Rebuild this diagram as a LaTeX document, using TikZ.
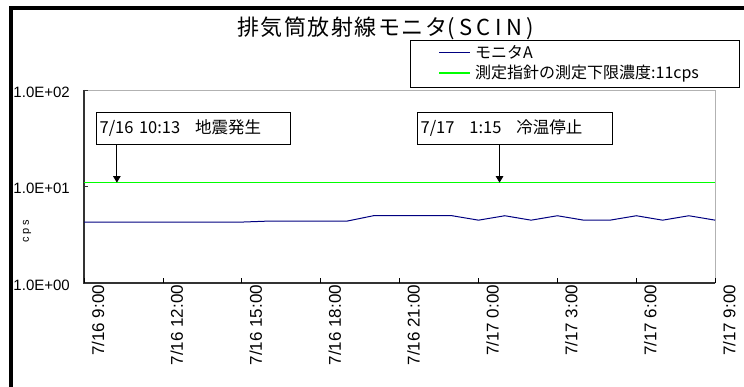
\documentclass[tikz,border=0pt]{standalone}
\usepackage{fontspec}
\setmainfont{Liberation Sans}
\newfontfamily\cjk{Noto Sans CJK JP}
\usetikzlibrary{arrows.meta}
\definecolor{monblue}{RGB}{0,0,128}
\definecolor{limgreen}{RGB}{0,255,0}
\begin{document}
\begin{tikzpicture}[x=1pt,y=-1pt,
    note/.style={draw,line width=0.8pt,fill=white,anchor=north west,minimum height=32.3pt,
      inner xsep=3.5pt,align=left,font=\cjk\fontsize{16.5}{18}\selectfont},
    legtext/.style={anchor=west,inner sep=0pt,font=\cjk\fontsize{16}{18}\selectfont},
    ylab/.style={anchor=east,inner sep=0pt,font=\fontsize{15}{17}\selectfont},
    xlab/.style={rotate=90,anchor=east,inner sep=0pt,font=\fontsize{17}{19}\selectfont},
    monA/.style={draw=monblue,line width=1pt},
    limit/.style={draw=limgreen,line width=1.6pt},
    pointer/.style={-{Triangle[width=7.5pt,length=6.5pt]},line width=0.9pt}]
    \useasboundingbox (0,0) rectangle (744,387);

    % chart frame
    \draw[line width=4pt] (10.5,387) -- (10.5,8) -- (744,8);

    \node at (237,28) [anchor=west,inner sep=0pt,font=\cjk\fontsize{22}{26}\selectfont] (title)
        {\addfontfeature{LetterSpace=7}排気筒放射線モニタ\addfontfeature{LetterSpace=20}(SCIN)};

    % legend
    \node at (410,40) [draw,line width=0.8pt,fill=white,anchor=north west,minimum width=329pt,minimum height=47pt] (legend) {};
    \node at (475,52.3) [legtext] (legA) {モニタA};
    \node at (475,73.3) [legtext] (legB) {測定指針の測定下限濃度:11cps};
    \draw[monA] ([xshift=-36pt]legA.west) -- ([xshift=-5pt]legA.west);
    \draw[limit,line width=2pt] ([xshift=-36pt]legB.west) -- ([xshift=-5pt]legB.west);

    \node at (27,231) [rotate=90,font=\fontsize{11}{13}\selectfont] (unit) {\addfontfeature{LetterSpace=25}cps};

    % plot area: x in hours from 7/16 9:00, y in log10(cps)
    \begin{scope}[shift={(84,283.3)},x=26.3pt,y=96.65pt]
        \draw[gray!60,line width=0.8pt] (0,2) -- (24,2) -- (24,0);
        \draw[black!80,line width=1.6pt] (0,2) -- (0,0) -- (24,0);
        \foreach \d/\t in {0/1.0E+00,1/1.0E+01,2/1.0E+02} {
            \draw[black!80,line width=0.8pt] (0,\d) -- ++(4pt,0);
            \node at (0,\d) [ylab,xshift=-14pt,yshift=-2pt] (ylab\d) {\t};
        }
        \foreach \h/\dd/\t in {0/16/9:00,3/16/12:00,6/16/15:00,9/16/18:00,12/16/21:00,
                              15/17/0:00,18/17/3:00,21/17/6:00,24/17/9:00} {
            \draw[line width=0.8pt] (\h,0) -- ++(0,5pt);
            \node at (\h,0) [xlab,xshift=-1.5pt,yshift=-14pt] (xlab\h) {7/\dd\ \t};
        }

        \draw[limit] (0,{log10(11)}) -- (24,{log10(11)});
        \draw[monA] (0,{log10(4.3)})
            \foreach \h/\v in {1/4.3,2/4.3,3/4.3,4/4.3,5/4.3,6/4.3,7/4.4,8/4.4,9/4.4,10/4.4,
                               11/5,12/5,13/5,14/5,15/4.5,16/5,17/4.5,18/5,19/4.5,20/4.5,
                               21/5,22/4.5,23/5,24/4.5} { -- (\h,{log10(\v)}) };

        \coordinate (quakeT) at (1.25,{log10(11)});
        \coordinate (stopT) at (15.8,{log10(11)});
    \end{scope}

    % events
    \node at (95.7,111.7) [note,text width=187pt] (quake) {7/16 10:13\hspace{0.9em}地震発生};
    \node at (416.7,111.7) [note,text width=188pt] (stop) {7/17\hspace{0.9em}1:15\hspace{0.9em}冷温停止};
    \draw[pointer] (quake.south -| quakeT) -- (quakeT);
    \draw[pointer] (stop.south -| stopT) -- (stopT);
\end{tikzpicture}
\end{document}
